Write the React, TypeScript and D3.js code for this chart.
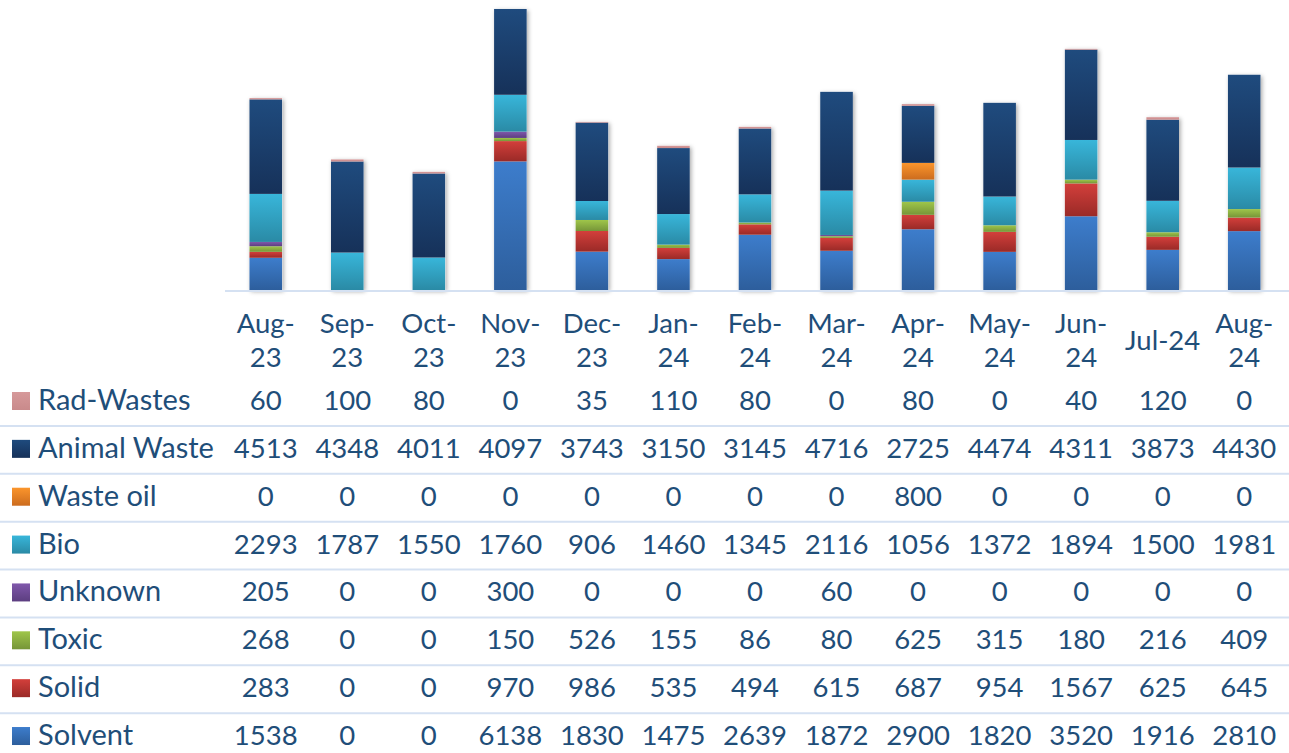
import React from 'react';
import * as d3 from 'd3';

const months = ['Aug-23', 'Sep-23', 'Oct-23', 'Nov-23', 'Dec-23', 'Jan-24', 'Feb-24', 'Mar-24', 'Apr-24', 'May-24', 'Jun-24', 'Jul-24', 'Aug-24'];

// stacking order bottom -> top
const seriesNames = ['Solvent', 'Solid', 'Toxic', 'Unknown', 'Bio', 'Waste oil', 'Animal Waste', 'Rad-Wastes'];

const solvent = [1538, 0, 0, 6138, 1830, 1475, 2639, 1872, 2900, 1820, 3520, 1916, 2810];
const solid = [283, 0, 0, 970, 986, 535, 494, 615, 687, 954, 1567, 625, 645];
const toxic = [268, 0, 0, 150, 526, 155, 86, 80, 625, 315, 180, 216, 409];
const unknown = [205, 0, 0, 300, 0, 0, 0, 60, 0, 0, 0, 0, 0];
const bio = [2293, 1787, 1550, 1760, 906, 1460, 1345, 2116, 1056, 1372, 1894, 1500, 1981];
const wasteOil = [0, 0, 0, 0, 0, 0, 0, 0, 800, 0, 0, 0, 0];
const animalWaste = [4513, 4348, 4011, 4097, 3743, 3150, 3145, 4716, 2725, 4474, 4311, 3873, 4430];
const radWastes = [60, 100, 80, 0, 35, 110, 80, 0, 80, 0, 40, 120, 0];

const seriesValues = [solvent, solid, toxic, unknown, bio, wasteOil, animalWaste, radWastes];

// [top colour, bottom colour]
const seriesColors = [
  ['#3d7dcc', '#2d5e9c'],
  ['#d33f3b', '#9a2a27'],
  ['#9fc64a', '#769538'],
  ['#8058ab', '#5c3e80'],
  ['#38b6da', '#2a8aa5'],
  ['#fb952c', '#cc6c1e'],
  ['#1f4b7e', '#163159'],
  ['#d6999a', '#c98a8b'],
];

// table rows, top -> bottom
const tableOrder = ['Rad-Wastes', 'Animal Waste', 'Waste oil', 'Bio', 'Unknown', 'Toxic', 'Solid', 'Solvent'];

const W = 1289;
const H = 753;
const textColor = '#1f4e79';
const font = 'Lato, "Open Sans", sans-serif';
const fontSize = 27.5;
const labelSize = 29;

function measure(text: string) {
  const c = document.createElement('canvas').getContext('2d');
  if (!c) return text.length * 14;
  c.font = `${fontSize}px Lato`;
  return c.measureText(text).width;
}

export default function App() {
  const x = d3.scaleBand().domain(months).range([225, 1285]).paddingInner(0.6).paddingOuter(0.3);
  const step = x.step();
  const baseY = 290;
  const y = d3.scaleLinear().domain([0, 14000]).range([baseY, baseY - 14000 * 0.02095]);

  const rows = months.map((m, i) => {
    const r: any = { month: m };
    seriesNames.forEach((s, k) => (r[s] = seriesValues[k][i]));
    return r;
  });
  const stacked = d3.stack().keys(seriesNames)(rows);

  const colCenter = (m: string) => (x(m) as number) + x.bandwidth() / 2;

  const rowPitch = 47.86;
  const firstRowBase = 410;

  return (
    <svg width={W} height={H} style={{ position: 'absolute', left: 0, top: 0, display: 'block' }}>
      <defs>
        {seriesColors.map((c, i) => (
          <linearGradient key={i} id={`g${i}`} x1="0" y1="0" x2="0" y2="1">
            <stop offset="0" stopColor={c[0]} />
            <stop offset="1" stopColor={c[1]} />
          </linearGradient>
        ))}
        <filter id="shadow" x="-30%" y="-10%" width="160%" height="120%">
          <feDropShadow dx="1.5" dy="1.5" stdDeviation="2.2" floodColor="#000" floodOpacity="0.35" />
        </filter>
      </defs>
      <rect width={W} height={H} fill="#fff" />

      {/* bars */}
      <g>
        {months.map((m, i) => {
          const top = y(stacked[stacked.length - 1][i][1]);
          return (
            <rect key={m} x={x(m)} y={top} width={x.bandwidth()} height={baseY - top} fill="#fff" filter="url(#shadow)" />
          );
        })}
      </g>
      {stacked.map((layer, k) => (
        <g key={layer.key}>
          {layer.map((d, i) => {
            const h = y(d[0]) - y(d[1]);
            if (h <= 0) return null;
            return (
              <rect key={i} x={x(months[i])} y={y(d[1])} width={x.bandwidth()} height={h} fill={`url(#g${k})`} />
            );
          })}
        </g>
      ))}

      {/* axis line */}
      <line x1={225} x2={W} y1={baseY + 1} y2={baseY + 1} stroke="#d5e1f2" strokeWidth={2} />

      {/* table grid lines */}
      {tableOrder.slice(1).map((_, r) => {
        const ly = firstRowBase + 16 + r * rowPitch;
        return <line key={r} x1={0} x2={W} y1={ly} y2={ly} stroke="#d5e1f2" strokeWidth={2} />;
      })}

      {/* category header */}
      <g fill={textColor} fontFamily={font} fontSize={fontSize} textAnchor="middle">
        {months.map((m) => {
          const wrap = measure(m) > step - 6;
          if (!wrap) {
            return (
              <text key={m} x={colCenter(m)} y={350}>
                {m}
              </text>
            );
          }
          const [a, b] = m.split('-');
          return (
            <g key={m}>
              <text x={colCenter(m)} y={333}>{a + '-'}</text>
              <text x={colCenter(m)} y={367}>{b}</text>
            </g>
          );
        })}
      </g>

      {/* table rows */}
      <g fill={textColor} fontFamily={font} fontSize={fontSize}>
        {tableOrder.map((name, r) => {
          const k = seriesNames.indexOf(name);
          const by = firstRowBase + r * rowPitch;
          return (
            <g key={name}>
              <rect x={12} y={by - 18} width={18} height={18} fill={`url(#g${k})`} />
              <text x={38} y={by} fontSize={labelSize}>{name}</text>
              {months.map((m, i) => (
                <text key={m} x={colCenter(m)} y={by} textAnchor="middle">
                  {seriesValues[k][i]}
                </text>
              ))}
            </g>
          );
        })}
      </g>
    </svg>
  );
}
